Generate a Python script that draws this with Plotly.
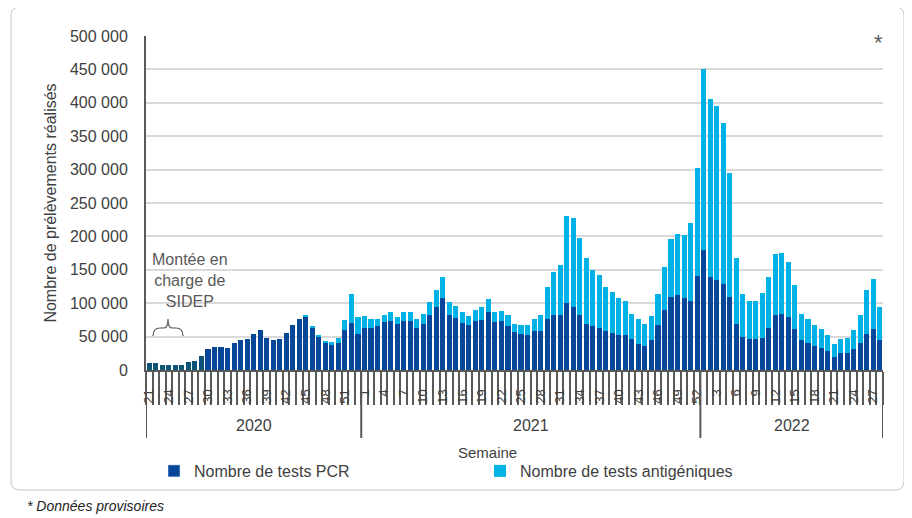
import plotly.graph_objects as go

# ---------------- data ----------------
weeks_2020 = list(range(21, 54))   # S21..S53
weeks_2021 = list(range(1, 53))    # S01..S52
weeks_2022 = list(range(1, 29))    # S01..S28
years = ["2020", "2021", "2022"]

pcr = [
    10000, 10000, 7500, 7500, 7500, 7500, 11500, 13500, 21000, 31000, 34500, 34500,
    32500, 40500, 44500, 46000, 54000, 60000, 48000, 44500, 46000, 56000, 67500, 77000,
    79000, 62500, 49000, 41000, 37000, 41000, 60000, 71000, 54500,
    63500, 63500, 66000, 71500, 73500, 69000, 73500, 73500, 63500, 69500, 83000, 95000,
    108500, 82500, 78000, 70000, 67500, 73500, 75500, 87000, 71500,
    73500, 66000, 57500, 54000, 52000, 58000, 58000, 77000, 82500, 82500, 100000, 94500,
    82500, 69500, 65500, 63500, 58000, 56000, 52000, 52000, 46000, 38500, 36500, 44500,
    67500, 90500, 110000, 112000, 108000, 104000, 140500,
    179000, 138500, 135000, 129000, 110000, 69500, 50000, 46000, 46000, 48000, 63500,
    82500, 84500, 79000, 61500, 44500, 40500, 36500, 32500, 29000, 19000, 25000, 25000,
    31000, 40500, 54000, 61500, 44500,
]

antigen = [
    0, 0, 0, 0, 0, 0, 0, 0, 0, 0, 0, 0,
    0, 0, 0, 0, 0, 0, 0, 0, 0, 0, 0, 0,
    3000, 3000, 3000, 3000, 5000, 6500, 14500, 42500, 24500,
    17500, 13500, 11000, 11000, 13000, 10000, 13000, 13000, 13500, 15000, 19000, 24500,
    30000, 19500, 18000, 16500, 13500, 17000, 19000, 19000, 15000,
    15000, 16500, 11500, 13000, 15000, 19000, 24500, 48000, 63500, 75000, 131000, 132500,
    115500, 98000, 84500, 79000, 67000, 61500, 56000, 52000, 38500, 38500, 32500, 36500,
    46000, 63500, 86000, 92000, 94000, 115500, 161500,
    271000, 267500, 259500, 240500, 184500, 98000, 63500, 58000, 58000, 67500, 75000,
    90500, 90500, 82500, 65500, 40000, 36500, 30500, 29000, 23000, 19500, 21000, 23000,
    28500, 42000, 65500, 75000, 50000,
]

y_ticks = [0, 50000, 100000, 150000, 200000, 250000, 300000, 350000, 400000, 450000, 500000]
y_tick_text = ["0", "50 000", "100 000", "150 000", "200 000", "250 000", "300 000",
               "350 000", "400 000", "450 000", "500 000"]

# ---------------- build categories ----------------
groups = [weeks_2020, weeks_2021, weeks_2022]
cats, week_lab = [], []
for yr, wk in zip(years, groups):
    for w in wk:
        cats.append(f"{yr}-S{w:02d}")
        week_lab.append(str(w))
tick_text = [lab if i % 3 == 0 else "" for i, lab in enumerate(week_lab)]

OFF = 8  # page body margin
W, H = 912 - OFF, 518 - OFF
ML, MR, MT, MB = 146 - OFF, 29, 36 - OFF, 148
PW, PH = W - ML - MR, H - MT - MB


def px(x, y):
    """reference-screen pixel -> paper coords"""
    return (x - OFF - ML) / PW, (H - MB - (y - OFF)) / PH


def pt(x, y):
    a, b = px(x, y)
    return f"{a:.5f},{b:.5f}"


GREY = "#404040"
TICKGREY = "#595959"
NAVY = "#07479a"
LIGHT = "#00b2e5"
EARLY = "#0d5478"

pcr_colors = [EARLY if i < 9 else NAVY for i in range(len(cats))]

fig = go.Figure()
fig.add_trace(go.Bar(x=cats, y=pcr, name="Nombre de tests PCR",
                     marker=dict(color=pcr_colors, line=dict(width=0)),
                     showlegend=False, legendgroup="pcr"))
fig.add_trace(go.Bar(x=cats, y=antigen, name="Nombre de tests antigéniques",
                     marker=dict(color=LIGHT, line=dict(width=0)),
                     legendrank=2))
# legend entry for PCR in the series' main colour
fig.add_trace(go.Bar(x=[cats[0]], y=[None], name="Nombre de tests PCR",
                     marker=dict(color=NAVY), legendgroup="pcr", legendrank=1,
                     hoverinfo="skip"))

shapes = []
n20, n21, n22 = len(weeks_2020), len(weeks_2021), len(weeks_2022)
bounds = [-0.5, n20 - 0.5, n20 + n21 - 0.5, n20 + n21 + n22 - 0.5]
for b in bounds:
    shapes.append(dict(type="line", xref="x", yref="paper", x0=b, x1=b,
                       y0=0, y1=px(0, 438)[1], line=dict(color=TICKGREY, width=2)))

brace = ("M" + pt(153, 336) + " Q" + pt(153, 328) + " " + pt(160, 328) +
         " L" + pt(164, 328) + " Q" + pt(168, 328) + " " + pt(168, 319) +
         " Q" + pt(168, 328) + " " + pt(172, 328) + " L" + pt(176, 328) +
         " Q" + pt(183, 328) + " " + pt(183, 336))
shapes.append(dict(type="path", xref="paper", yref="paper", path=brace,
                   line=dict(color=TICKGREY, width=1.2)))

x0, y0, x1, y1, r = 11, 7, 904, 490, 9
frame = ("M" + pt(x0 + r, y0) + " L" + pt(x1 - r, y0) + " Q" + pt(x1, y0) + " " + pt(x1, y0 + r) +
         " L" + pt(x1, y1 - r) + " Q" + pt(x1, y1) + " " + pt(x1 - r, y1) +
         " L" + pt(x0 + r, y1) + " Q" + pt(x0, y1) + " " + pt(x0, y1 - r) +
         " L" + pt(x0, y0 + r) + " Q" + pt(x0, y0) + " " + pt(x0 + r, y0) + " Z")
shapes.append(dict(type="path", xref="paper", yref="paper", path=frame,
                   line=dict(color="#c8c8c8", width=1)))

annotations = []
starts = [0, n20, n20 + n21]
for yr, s, n in zip(years, starts, [n20, n21, n22]):
    annotations.append(dict(x=s + (n - 1) / 2, xref="x", y=px(0, 425)[1], yref="paper",
                            text=yr, showarrow=False, font=dict(size=16, color=GREY),
                            xanchor="center", yanchor="middle"))
ax, ay = px(487, 452)
annotations.append(dict(x=ax, y=ay, xref="paper", yref="paper", text="Semaine",
                        showarrow=False, font=dict(size=15, color=GREY),
                        xanchor="center", yanchor="middle"))
ax, ay = px(190, 280)
annotations.append(dict(x=ax, y=ay, xref="paper", yref="paper",
                        text="Montée en<br>charge de<br>SIDEP", showarrow=False,
                        font=dict(size=16, color=TICKGREY), align="center",
                        xanchor="center", yanchor="middle"))
ax, ay = px(878, 42)
annotations.append(dict(x=ax, y=ay, xref="paper", yref="paper", text="*",
                        showarrow=False, font=dict(size=22, color=TICKGREY),
                        xanchor="center", yanchor="middle"))
ax, ay = px(25, 506)
annotations.append(dict(x=ax, y=ay, xref="paper", yref="paper",
                        text="<i>* Données provisoires</i>", showarrow=False,
                        font=dict(size=14, color="#222222"), xanchor="left", yanchor="middle"))

lx, ly = px(154, 471)
fig.update_layout(
    width=W, height=H, autosize=False,
    margin=dict(l=ML, r=MR, t=MT, b=MB),
    paper_bgcolor="white", plot_bgcolor="white",
    font=dict(family="Liberation Sans, Arial, sans-serif", size=16, color=GREY),
    barmode="stack", bargap=0.22,
    showlegend=True,
    legend=dict(orientation="h", x=lx, y=ly, xanchor="left", yanchor="middle",
                font=dict(size=16, color=GREY), entrywidth=281, entrywidthmode="pixels",
                bgcolor="rgba(0,0,0,0)", traceorder="normal"),
    xaxis=dict(type="category", categoryorder="array", categoryarray=cats,
               tickmode="array", tickvals=cats, ticktext=tick_text,
               tickangle=-90, tickfont=dict(size=13, color=GREY),
               ticks="outside", tickson="boundaries", ticklen=33, tickwidth=2,
               tickcolor=TICKGREY, ticklabelstandoff=12,
               showline=True, linecolor=TICKGREY, linewidth=2,
               showgrid=False, range=[-0.5, len(cats) - 0.5], fixedrange=True),
    yaxis=dict(range=[0, 500000], tickmode="array", tickvals=y_ticks, ticktext=y_tick_text,
               tickfont=dict(size=16, color=GREY), ticks="", ticklabelstandoff=13,
               showline=True, linecolor=TICKGREY, linewidth=2,
               showgrid=True, gridcolor="#d9d9d9", gridwidth=1.5, zeroline=False,
               title=dict(text="Nombre de prélèvements réalisés", standoff=9,
                          font=dict(size=16, color=GREY))),
    shapes=shapes, annotations=annotations,
)

fig.write_html("out.html")
